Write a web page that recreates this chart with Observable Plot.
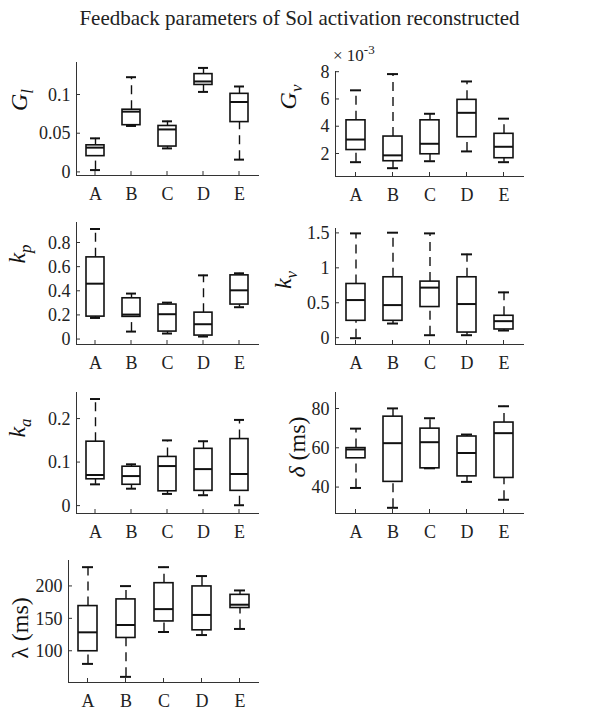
<!DOCTYPE html>
<html><head><meta charset="utf-8">
<script src="https://cdn.jsdelivr.net/npm/d3@7"></script>
<script src="https://cdn.jsdelivr.net/npm/@observablehq/plot@0.6"></script>
<style>
body{margin:0;background:#fff;font-family:"Liberation Serif",serif;}
#wrap{position:relative;width:599px;height:711px;}
.ttl{position:absolute;left:0;width:599px;top:6px;text-align:center;font-size:21px;color:#222;}
.yl{position:absolute;font-size:24px;color:#111;transform:translate(-50%,-50%) rotate(-90deg);white-space:nowrap;}
.p{position:absolute;}
</style></head><body>
<div id="wrap"><div class="ttl">Feedback parameters of Sol activation reconstructed</div></div>
<script>
const cats = ["A","B","C","D","E"];
// each row: [whisker min, q1, median, q3, whisker max]
const Gl = [[0.003,0.021,0.032,0.035,0.044],[0.060,0.061,0.0785,0.081,0.123],[0.031,0.0334,0.0555,0.060,0.066],[0.104,0.113,0.1175,0.127,0.135],[0.0165,0.065,0.091,0.1015,0.111]];
const Gv = [[1.40,2.29,3.06,4.47,6.67],[0.96,1.47,1.90,3.28,7.86],[1.47,1.98,2.75,4.47,4.95],[2.19,3.23,5.02,5.97,7.32],[1.40,1.69,2.53,3.48,4.59]];
const kp = [[0.179,0.19,0.463,0.681,0.916],[0.066,0.188,0.207,0.342,0.381],[0.05,0.066,0.21,0.29,0.306],[0.025,0.033,0.127,0.223,0.532],[0.268,0.29,0.408,0.532,0.549]];
const kv = [[0,0.249,0.546,0.776,1.5],[0.21,0.249,0.474,0.872,1.51],[0.043,0.446,0.724,0.81,1.5],[0.043,0.081,0.489,0.872,1.2],[0.11,0.125,0.244,0.321,0.656]];
const ka = [[0.050,0.0616,0.0715,0.148,0.246],[0.04,0.049,0.069,0.0905,0.096],[0.028,0.034,0.092,0.113,0.151],[0.025,0.035,0.085,0.1316,0.149],[0.002,0.035,0.0738,0.154,0.198]];
const delta = [[39.8,54.9,59.4,60.1,70],[29.7,42.9,62.6,76.1,80.3],[49.8,49.8,63.1,70,75.3],[42.9,45.7,57.6,66,67],[33.8,44.9,67.7,73.1,81.4]];
const lambda = [[80.5,100,129.2,169.7,229.7],[60.5,120.5,140.5,180,200.5],[129.7,146,165,205,229.7],[125,132.3,156,200,216],[134.4,166.7,171.8,187,193.8]];

const wrap = document.getElementById("wrap");
const ML = 60, MT = 10, MB = 29, MR = 10;

function panel(stats, x0, x1, y0, y1, domain, ticks) {
  const rows = stats.map((s, i) => ({c: cats[i], lo: s[0], q1: s[1], med: s[2], q3: s[3], hi: s[4]}));
  const chart = Plot.plot({
    width: (x1 - x0) + ML + MR, height: (y1 - y0) + MT + MB,
    marginLeft: ML, marginRight: MR, marginTop: MT, marginBottom: MB,
    style: {fontFamily: "Liberation Serif", fontSize: "18px", color: "#222"},
    x: {domain: cats, type: "band", paddingInner: 0.5, paddingOuter: 0.25, label: null},
    y: {type: "linear", domain, label: null},
    marks: [
      Plot.frame({anchor: "left", stroke: "#333"}),
      Plot.frame({anchor: "bottom", stroke: "#333"}),
      Plot.axisX({tickSize: 0, tickPadding: 12, fontSize: 18}),
      Plot.axisY({ticks, tickFormat: d => String(d), tickSize: 0, tickPadding: 6, fontSize: 18}),
      Plot.ruleX(rows.filter(d => d.hi > d.q3), {x: "c", y1: "q3", y2: "hi", stroke: "#111", strokeWidth: 1.4, strokeDasharray: "9,6"}),
      Plot.ruleX(rows.filter(d => d.lo < d.q1), {x: "c", y1: "lo", y2: "q1", stroke: "#111", strokeWidth: 1.4, strokeDasharray: "9,6"}),
      Plot.tickY(rows, {x: "c", y: "hi", stroke: "#111", strokeWidth: 2, insetLeft: 4, insetRight: 4}),
      Plot.tickY(rows, {x: "c", y: "lo", stroke: "#111", strokeWidth: 2, insetLeft: 4, insetRight: 4}),
      Plot.rectY(rows, {x: "c", y1: "q1", y2: "q3", fill: "white", stroke: "#111", strokeWidth: 1.6}),
      Plot.tickY(rows, {x: "c", y: "med", stroke: "#111", strokeWidth: 2})
    ]
  });
  // inward ticks on both axes
  const sy = chart.scale("y"), sx = chart.scale("x");
  const g = d3.select(chart);
  const yb = sy.apply(domain[0]);
  ticks.forEach(t => {
    const yy = sy.apply(t);
    g.append("line").attr("x1", ML).attr("x2", ML + 4).attr("y1", yy).attr("y2", yy).attr("stroke", "#333");
  });
  cats.forEach(c => {
    const xx = sx.apply(c) + sx.bandwidth / 2;
    g.append("line").attr("x1", xx).attr("x2", xx).attr("y1", yb).attr("y2", yb - 4).attr("stroke", "#333");
  });
  const div = document.createElement("div");
  div.className = "p";
  div.style.left = (x0 - ML) + "px";
  div.style.top = (y0 - MT) + "px";
  div.appendChild(chart);
  wrap.appendChild(div);
}

function ylab(html, x, y) {
  const d = document.createElement("div");
  d.className = "yl"; d.innerHTML = html;
  d.style.left = x + "px"; d.style.top = y + "px";
  wrap.appendChild(d);
}

panel(Gl, 76, 258, 62, 175, [-0.004, 0.142], [0, 0.05, 0.1]);
panel(Gv, 335, 523, 71, 176, [0.35, 8.05], [2, 4, 6, 8]);
panel(kp, 76, 258, 222, 344, [-0.041, 0.97], [0, 0.2, 0.4, 0.6, 0.8]);
panel(kv, 335, 523, 228, 344, [-0.09, 1.57], [0, 0.5, 1, 1.5]);
panel(ka, 76, 258, 392, 513, [-0.017, 0.261], [0, 0.1, 0.2]);
panel(delta, 335, 523, 392, 513, [26.8, 88.4], [40, 60, 80]);
panel(lambda, 68, 258, 560, 682, [51.8, 240], [100, 150, 200]);

ylab("<i>G</i><sub style='font-size:17px'><i>l</i></sub>", 22, 100);
ylab("<i>G</i><sub style='font-size:17px'><i>v</i></sub>", 291, 97);
ylab("<i>k</i><sub style='font-size:17px'><i>p</i></sub>", 20, 254);
ylab("<i>k</i><sub style='font-size:17px'><i>v</i></sub>", 286, 280);
ylab("<i>k</i><sub style='font-size:17px'><i>a</i></sub>", 20, 428);
ylab("<i>δ</i> (ms)", 297, 447);
ylab("λ (ms)", 20, 628);
const m = document.createElement("div");
m.style.cssText = "position:absolute;left:333px;top:42px;font-size:17px;color:#222;";
m.innerHTML = "× 10<sup style='font-size:13px'>-3</sup>";
wrap.appendChild(m);
</script></body></html>
